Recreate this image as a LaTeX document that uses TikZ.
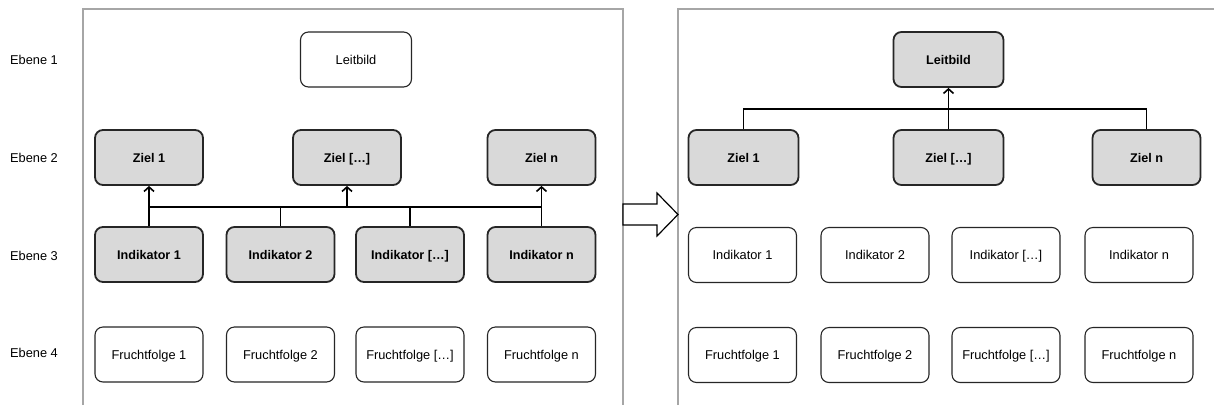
\documentclass[tikz,border=0pt]{standalone}
\usepackage{fontspec}
\setmainfont{Liberation Sans}
\usetikzlibrary{arrows.meta}
\definecolor{boxgray}{HTML}{D9D9D9}
\definecolor{framegray}{HTML}{A6A6A6}
\begin{document}
\begin{tikzpicture}[x=1pt,y=-1pt,
  every node/.style={font=\fontsize{12.8}{15}\selectfont},
  plainbox/.style={draw=black!85, line width=1.1pt, rounded corners=8pt,
    fill=white, minimum width=108pt, minimum height=55pt, inner sep=2pt,
    text height=9.2pt, text depth=0pt},
  keybox/.style={plainbox, fill=boxgray, line width=1.8pt,
    font=\fontsize{12.6}{15}\selectfont\bfseries},
  level/.style={anchor=center},
  frame/.style={draw=framegray, line width=1.4pt},
  link/.style={draw=black, line width=1.8pt},
  uparrow/.style={link, -{Straight Barb[length=4.5pt,width=10pt,line width=1.6pt]}}
]
\useasboundingbox (0,0) rectangle (1214,405);

% panel frames, open at the bottom
\draw[frame] (83,405) -- (83,9) -- (623,9) -- (623,405);
\draw[frame] (678,405) -- (678,9) -- (1214,9);

% level labels
\node[level] (e1) at (34,60) {Ebene 1};
\node[level] (e2) at (34,158) {Ebene 2};
\node[level] (e3) at (34,256) {Ebene 3};
\node[level] (e4) at (34,353) {Ebene 4};

% ---------- left panel ----------
\node[plainbox, minimum width=111pt] (lL) at (356,59.5) {Leitbild};

\node[keybox] (lz1) at (149,157.5) {Ziel 1};
\node[keybox] (lz2) at (347,157.5) {Ziel [\dots]};
\node[keybox] (lz3) at (541.5,157.5) {Ziel n};

\node[keybox] (li1) at (149,254.5) {Indikator 1};
\node[keybox] (li2) at (280.5,254.5) {Indikator 2};
\node[keybox] (li3) at (410,254.5) {Indikator [\dots]};
\node[keybox] (li4) at (541.5,254.5) {Indikator n};

\node[plainbox] (lf1) at (149,354.5) {Fruchtfolge 1};
\node[plainbox] (lf2) at (280.5,354.5) {Fruchtfolge 2};
\node[plainbox] (lf3) at (410,354.5) {Fruchtfolge [\dots]};
\node[plainbox] (lf4) at (541.5,354.5) {Fruchtfolge n};

\coordinate (lbus) at (0,207);
\draw[link] (li1.north) -- (li1.north |- lbus) -- (li4.north |- lbus) -- (li4.north);
\draw[link] (li2.north) -- (li2.north |- lbus);
\draw[link] (li3.north) -- (li3.north |- lbus);
\draw[uparrow] (lz1.south |- lbus) -- (lz1.south);
\draw[uparrow] (lz2.south |- lbus) -- (lz2.south);
\draw[uparrow] (lz3.south |- lbus) -- (lz3.south);

% transition arrow
\draw[draw=black, line width=1.2pt, fill=white, line join=miter]
  (623,204) -- (657,204) -- (657,193) -- (678,214.5) -- (657,236) -- (657,225) -- (623,225) -- cycle;

% ---------- right panel ----------
\node[keybox, minimum width=110pt] (rL) at (948.5,59.5) {Leitbild};

\node[keybox, minimum width=110pt] (rz1) at (743.5,157.5) {Ziel 1};
\node[keybox, minimum width=110pt] (rz2) at (948.5,157.5) {Ziel [\dots]};
\node[keybox] (rz3) at (1146.5,157.5) {Ziel n};

\node[plainbox] (ri1) at (742.5,255) {Indikator 1};
\node[plainbox] (ri2) at (875,255) {Indikator 2};
\node[plainbox] (ri3) at (1006,255) {Indikator [\dots]};
\node[plainbox] (ri4) at (1139,255) {Indikator n};

\node[plainbox] (rf1) at (742.5,355) {Fruchtfolge 1};
\node[plainbox] (rf2) at (875,355) {Fruchtfolge 2};
\node[plainbox] (rf3) at (1006,355) {Fruchtfolge [\dots]};
\node[plainbox] (rf4) at (1139,355) {Fruchtfolge n};

\coordinate (rbus) at (0,109);
\draw[link] (rz1.north) -- (rz1.north |- rbus) -- (rz3.north |- rbus) -- (rz3.north);
\draw[uparrow] (rz2.north) -- (rL.south);
\end{tikzpicture}
\end{document}
